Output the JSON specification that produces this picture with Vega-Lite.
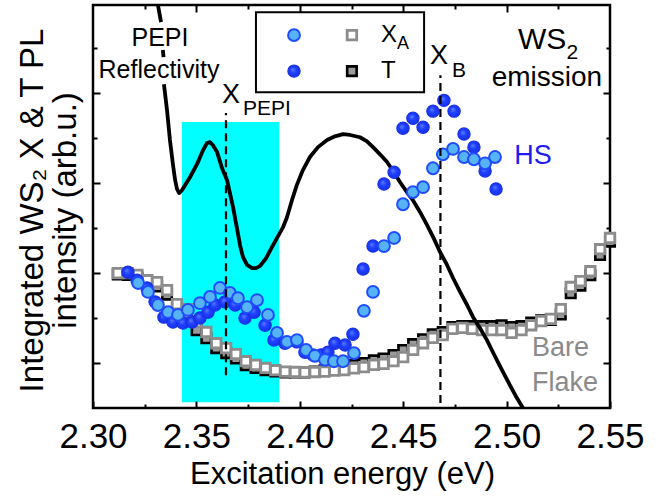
{
  "$schema": "https://vega.github.io/schema/vega-lite/v6.json",
  "width": 517,
  "height": 403,
  "autosize": {"type": "none"},
  "padding": {"left": 93, "top": 5, "right": 58, "bottom": 92},
  "background": "white",
  "config": {"view": {"stroke": "black", "strokeWidth": 2.5}, "font": "Liberation Sans"},
  "resolve": {"axis": {"x": "independent", "y": "independent"}},
  "datasets": {
    "band": [{"x": 2.343, "x2": 2.390, "y": 0.13, "y2": 6.36}],
    "dashes": [{"x": 2.3643, "y": 0.73, "y2": 6.56}, {"x": 2.4680, "y": 0.11, "y2": 7.40}],
    "curve": [
      {"seg": 1, "x": 2.3314, "y": 8.96}, {"seg": 1, "x": 2.3329, "y": 8.58},
      {"seg": 2, "x": 2.3338, "y": 7.96}, {"seg": 2, "x": 2.3341, "y": 7.80},
      {"seg": 3, "x": 2.3343, "y": 7.20}, {"seg": 3, "x": 2.3358, "y": 6.62}, {"seg": 3, "x": 2.3372, "y": 5.96},
      {"seg": 3, "x": 2.3387, "y": 5.40}, {"seg": 3, "x": 2.3397, "y": 5.07}, {"seg": 3, "x": 2.3406, "y": 4.87},
      {"seg": 3, "x": 2.3416, "y": 4.78}, {"seg": 3, "x": 2.3430, "y": 4.84}, {"seg": 3, "x": 2.3469, "y": 5.13},
      {"seg": 3, "x": 2.3503, "y": 5.42}, {"seg": 3, "x": 2.3532, "y": 5.73}, {"seg": 3, "x": 2.3551, "y": 5.89},
      {"seg": 3, "x": 2.3566, "y": 5.91}, {"seg": 3, "x": 2.3580, "y": 5.84}, {"seg": 3, "x": 2.3600, "y": 5.69},
      {"seg": 3, "x": 2.3624, "y": 5.33}, {"seg": 3, "x": 2.3648, "y": 5.07}, {"seg": 3, "x": 2.3662, "y": 4.78},
      {"seg": 3, "x": 2.3677, "y": 4.47}, {"seg": 3, "x": 2.3696, "y": 4.00}, {"seg": 3, "x": 2.3711, "y": 3.62},
      {"seg": 3, "x": 2.3725, "y": 3.36}, {"seg": 3, "x": 2.3745, "y": 3.18}, {"seg": 3, "x": 2.3769, "y": 3.11},
      {"seg": 3, "x": 2.3788, "y": 3.11}, {"seg": 3, "x": 2.3808, "y": 3.16}, {"seg": 3, "x": 2.3837, "y": 3.33},
      {"seg": 3, "x": 2.3866, "y": 3.58}, {"seg": 3, "x": 2.3895, "y": 3.82}, {"seg": 3, "x": 2.3919, "y": 4.02},
      {"seg": 3, "x": 2.3938, "y": 4.24}, {"seg": 3, "x": 2.3962, "y": 4.62}, {"seg": 3, "x": 2.3986, "y": 4.96},
      {"seg": 3, "x": 2.4015, "y": 5.29}, {"seg": 3, "x": 2.4049, "y": 5.58}, {"seg": 3, "x": 2.4088, "y": 5.80},
      {"seg": 3, "x": 2.4132, "y": 5.96}, {"seg": 3, "x": 2.4170, "y": 6.04}, {"seg": 3, "x": 2.4209, "y": 6.09},
      {"seg": 3, "x": 2.4243, "y": 6.07}, {"seg": 3, "x": 2.4291, "y": 6.02}, {"seg": 3, "x": 2.4325, "y": 5.93},
      {"seg": 3, "x": 2.4354, "y": 5.80}, {"seg": 3, "x": 2.4388, "y": 5.64}, {"seg": 3, "x": 2.4422, "y": 5.47},
      {"seg": 3, "x": 2.4451, "y": 5.27}, {"seg": 3, "x": 2.4485, "y": 5.02}, {"seg": 3, "x": 2.4518, "y": 4.80},
      {"seg": 3, "x": 2.4547, "y": 4.62}, {"seg": 3, "x": 2.4581, "y": 4.36}, {"seg": 3, "x": 2.4615, "y": 4.07},
      {"seg": 3, "x": 2.4649, "y": 3.76}, {"seg": 3, "x": 2.4678, "y": 3.47}, {"seg": 3, "x": 2.4712, "y": 3.18},
      {"seg": 3, "x": 2.4741, "y": 2.89}, {"seg": 3, "x": 2.4775, "y": 2.58}, {"seg": 3, "x": 2.4809, "y": 2.29},
      {"seg": 3, "x": 2.4838, "y": 2.02}, {"seg": 3, "x": 2.4871, "y": 1.78}, {"seg": 3, "x": 2.4905, "y": 1.51},
      {"seg": 3, "x": 2.4934, "y": 1.24}, {"seg": 3, "x": 2.4958, "y": 1.02}, {"seg": 3, "x": 2.4983, "y": 0.80},
      {"seg": 3, "x": 2.5016, "y": 0.51}, {"seg": 3, "x": 2.5050, "y": 0.22}, {"seg": 3, "x": 2.5079, "y": 0.0}
    ],
    "xa_bare": [
      {"x": 2.3120, "y": 3.00}, {"x": 2.3168, "y": 3.00}, {"x": 2.3215, "y": 2.96}, {"x": 2.3263, "y": 2.84},
      {"x": 2.3310, "y": 2.80}, {"x": 2.3358, "y": 2.62}, {"x": 2.3406, "y": 2.31}, {"x": 2.3453, "y": 2.20},
      {"x": 2.3501, "y": 1.91}, {"x": 2.3548, "y": 1.69}, {"x": 2.3596, "y": 1.44}, {"x": 2.3644, "y": 1.33},
      {"x": 2.3691, "y": 1.20}, {"x": 2.3739, "y": 1.04}, {"x": 2.3786, "y": 0.96}, {"x": 2.3834, "y": 0.89},
      {"x": 2.3882, "y": 0.84}, {"x": 2.3929, "y": 0.81}, {"x": 2.3977, "y": 0.80}, {"x": 2.4024, "y": 0.79},
      {"x": 2.4072, "y": 0.80}, {"x": 2.4120, "y": 0.81}, {"x": 2.4167, "y": 0.83}, {"x": 2.4215, "y": 0.84},
      {"x": 2.4262, "y": 0.88}, {"x": 2.4310, "y": 0.91}, {"x": 2.4358, "y": 0.96}, {"x": 2.4405, "y": 0.98},
      {"x": 2.4453, "y": 1.04}, {"x": 2.4500, "y": 1.13}, {"x": 2.4548, "y": 1.29}, {"x": 2.4596, "y": 1.44},
      {"x": 2.4643, "y": 1.56}, {"x": 2.4691, "y": 1.62}, {"x": 2.4738, "y": 1.76}, {"x": 2.4786, "y": 1.78},
      {"x": 2.4834, "y": 1.76}, {"x": 2.4881, "y": 1.73}, {"x": 2.4929, "y": 1.73}, {"x": 2.4976, "y": 1.73},
      {"x": 2.5024, "y": 1.67}, {"x": 2.5072, "y": 1.73}, {"x": 2.5119, "y": 1.84}, {"x": 2.5167, "y": 1.93},
      {"x": 2.5214, "y": 1.98}, {"x": 2.5262, "y": 2.20}, {"x": 2.5310, "y": 2.69}, {"x": 2.5357, "y": 2.82},
      {"x": 2.5405, "y": 3.04}, {"x": 2.5452, "y": 3.53}, {"x": 2.5500, "y": 3.78}
    ],
    "t_bare": [
      {"x": 2.3120, "y": 2.97}, {"x": 2.3168, "y": 2.96}, {"x": 2.3215, "y": 2.90}, {"x": 2.3263, "y": 2.76},
      {"x": 2.3310, "y": 2.70}, {"x": 2.3358, "y": 2.52}, {"x": 2.3406, "y": 2.22}, {"x": 2.3453, "y": 2.08},
      {"x": 2.3501, "y": 1.73}, {"x": 2.3548, "y": 1.55}, {"x": 2.3596, "y": 1.33}, {"x": 2.3644, "y": 1.22},
      {"x": 2.3691, "y": 1.10}, {"x": 2.3739, "y": 0.95}, {"x": 2.3786, "y": 0.89}, {"x": 2.3834, "y": 0.84},
      {"x": 2.3882, "y": 0.81}, {"x": 2.3929, "y": 0.79}, {"x": 2.3977, "y": 0.79}, {"x": 2.4024, "y": 0.79},
      {"x": 2.4072, "y": 0.81}, {"x": 2.4120, "y": 0.84}, {"x": 2.4167, "y": 0.88}, {"x": 2.4215, "y": 0.91},
      {"x": 2.4262, "y": 0.96}, {"x": 2.4310, "y": 1.00}, {"x": 2.4358, "y": 1.06}, {"x": 2.4405, "y": 1.10},
      {"x": 2.4453, "y": 1.18}, {"x": 2.4500, "y": 1.29}, {"x": 2.4548, "y": 1.42}, {"x": 2.4596, "y": 1.53},
      {"x": 2.4643, "y": 1.64}, {"x": 2.4691, "y": 1.69}, {"x": 2.4738, "y": 1.80}, {"x": 2.4786, "y": 1.82},
      {"x": 2.4834, "y": 1.82}, {"x": 2.4881, "y": 1.82}, {"x": 2.4929, "y": 1.82}, {"x": 2.4976, "y": 1.84},
      {"x": 2.5024, "y": 1.80}, {"x": 2.5072, "y": 1.82}, {"x": 2.5119, "y": 1.90}, {"x": 2.5167, "y": 1.95},
      {"x": 2.5214, "y": 1.96}, {"x": 2.5262, "y": 2.08}, {"x": 2.5310, "y": 2.55}, {"x": 2.5357, "y": 2.72},
      {"x": 2.5405, "y": 2.95}, {"x": 2.5452, "y": 3.40}, {"x": 2.5500, "y": 3.70}
    ],
    "t_hs": [
      {"x": 2.3169, "y": 3.02}, {"x": 2.3213, "y": 2.84}, {"x": 2.3261, "y": 2.67}, {"x": 2.3300, "y": 2.36},
      {"x": 2.3343, "y": 2.02}, {"x": 2.3387, "y": 1.91}, {"x": 2.3435, "y": 1.89}, {"x": 2.3479, "y": 1.91},
      {"x": 2.3517, "y": 2.00}, {"x": 2.3556, "y": 2.13}, {"x": 2.3590, "y": 2.29}, {"x": 2.3638, "y": 2.36},
      {"x": 2.3687, "y": 2.29}, {"x": 2.3735, "y": 2.00}, {"x": 2.3779, "y": 2.13}, {"x": 2.3832, "y": 1.84},
      {"x": 2.3875, "y": 1.51}, {"x": 2.3928, "y": 1.44}, {"x": 2.3986, "y": 1.47}, {"x": 2.4025, "y": 1.24},
      {"x": 2.4064, "y": 1.18}, {"x": 2.4103, "y": 1.18}, {"x": 2.4136, "y": 1.24}, {"x": 2.4170, "y": 1.44},
      {"x": 2.4219, "y": 1.40}, {"x": 2.4257, "y": 1.64}, {"x": 2.4306, "y": 3.09}, {"x": 2.4354, "y": 3.60},
      {"x": 2.4407, "y": 4.98}, {"x": 2.4456, "y": 5.24}, {"x": 2.4499, "y": 6.22}, {"x": 2.4547, "y": 6.44},
      {"x": 2.4596, "y": 6.24}, {"x": 2.4644, "y": 6.60}, {"x": 2.4697, "y": 6.84}, {"x": 2.4746, "y": 6.60},
      {"x": 2.4794, "y": 6.09}, {"x": 2.4842, "y": 5.80}, {"x": 2.4896, "y": 5.27}, {"x": 2.4949, "y": 4.87}
    ],
    "xa_hs": [
      {"x": 2.3218, "y": 2.78}, {"x": 2.3266, "y": 2.58}, {"x": 2.3314, "y": 2.29}, {"x": 2.3363, "y": 2.13},
      {"x": 2.3411, "y": 2.07}, {"x": 2.3459, "y": 2.18}, {"x": 2.3517, "y": 2.33}, {"x": 2.3566, "y": 2.47},
      {"x": 2.3614, "y": 2.67}, {"x": 2.3662, "y": 2.56}, {"x": 2.3701, "y": 2.44}, {"x": 2.3745, "y": 2.24},
      {"x": 2.3793, "y": 2.40}, {"x": 2.3846, "y": 2.07}, {"x": 2.3890, "y": 1.67}, {"x": 2.3938, "y": 1.47},
      {"x": 2.3986, "y": 1.51}, {"x": 2.4030, "y": 1.29}, {"x": 2.4073, "y": 1.16}, {"x": 2.4122, "y": 1.07},
      {"x": 2.4165, "y": 1.04}, {"x": 2.4209, "y": 1.04}, {"x": 2.4262, "y": 1.22}, {"x": 2.4310, "y": 2.16},
      {"x": 2.4354, "y": 2.58}, {"x": 2.4407, "y": 3.60}, {"x": 2.4456, "y": 3.78}, {"x": 2.4499, "y": 4.53},
      {"x": 2.4547, "y": 4.80}, {"x": 2.4596, "y": 4.91}, {"x": 2.4644, "y": 5.33}, {"x": 2.4692, "y": 5.64},
      {"x": 2.4741, "y": 5.76}, {"x": 2.4794, "y": 5.58}, {"x": 2.4842, "y": 5.53}, {"x": 2.4896, "y": 5.44},
      {"x": 2.4944, "y": 5.58}
    ],
    "legbox": [{"x": 2.3788, "x2": 2.4601, "y": 7.02, "y2": 8.80}],
    "leg_light": [{"x": 2.3972, "y": 8.29}],
    "leg_dark": [{"x": 2.3972, "y": 7.49}],
    "leg_xa": [{"x": 2.4252, "y": 8.29}],
    "leg_t": [{"x": 2.4252, "y": 7.49}],
    "txt25c": [{"x": 2.3324, "y": 8.22, "t": "PEPI"}, {"x": 2.3319, "y": 7.51, "t": "Reflectivity"}],
    "txt28c": [{"x": 2.5195, "y": 7.33, "t": "emission"}],
    "txtWS": [{"x": 2.5055, "y": 8.18, "t": "WS"}],
    "txtX": [{"x": 2.3624, "y": 6.96, "t": "X"}, {"x": 2.4630, "y": 7.82, "t": "X"}],
    "txtSub": [{"x": 2.3725, "y": 6.64, "t": "PEPI"}, {"x": 2.4736, "y": 7.49, "t": "B"}, {"x": 2.5290, "y": 7.90, "t": "2"}],
    "txtLeg": [{"x": 2.4393, "y": 8.29, "t": "X"}, {"x": 2.4393, "y": 7.49, "t": "T"}],
    "txtLegSub": [{"x": 2.4470, "y": 8.09, "t": "A"}],
    "txtHS": [{"x": 2.5128, "y": 5.60, "t": "HS"}],
    "txtBare": [{"x": 2.5123, "y": 1.33, "t": "Bare"}, {"x": 2.5123, "y": 0.56, "t": "Flake"}]
  },
  "encoding": {
    "x": {"field": "x", "type": "quantitative", "scale": {"domain": [2.30, 2.55], "nice": false, "zero": false}, "axis": null},
    "y": {"field": "y", "type": "quantitative", "scale": {"domain": [0, 8.96], "nice": false, "zero": false}, "axis": null}
  },
  "layer": [
    {
      "data": {"name": "band"},
      "mark": {"type": "rect", "color": "#00ffff", "opacity": 1},
      "encoding": {
        "x": {"field": "x", "type": "quantitative", "scale": {"domain": [2.30, 2.55], "nice": false, "zero": false},
          "axis": {"orient": "bottom", "values": [2.30, 2.35, 2.40, 2.45, 2.50, 2.55], "format": ".2f",
            "tickSize": -7, "tickWidth": 2, "tickColor": "black", "domain": false, "grid": false,
            "labelFont": "Liberation Sans Narrow, Liberation Sans", "labelFontSize": 35, "labelColor": "black",
            "labelPadding": 46, "labelBaseline": "alphabetic", "labelFlush": false, "labelOverlap": false, "labelBound": false,
            "title": "Excitation energy (eV)", "titleFont": "Liberation Sans", "titleFontSize": 31, "titleFontWeight": "normal",
            "titleColor": "black", "titleBaseline": "alphabetic", "titleAlign": "center", "titleX": 249, "titleY": 75, "zindex": 1}},
        "x2": {"field": "x2"},
        "y": {"field": "y", "type": "quantitative", "scale": {"domain": [0, 8.96], "nice": false, "zero": false},
          "axis": {"orient": "left", "values": [1, 3, 5, 7], "tickSize": -7, "tickWidth": 2, "tickColor": "black",
            "domain": false, "grid": false, "labels": false,
            "title": ["Integrated WS₂ X & T PL", "intensity (arb.u.)"], "titleFont": "Liberation Sans", "titleFontSize": 33,
            "titleFontWeight": "normal", "titleColor": "black", "titleAngle": 270, "titleAlign": "center",
            "titleBaseline": "alphabetic", "titleX": -51, "titleY": 205, "titleLineHeight": 33, "zindex": 1}},
        "y2": {"field": "y2"}
      }
    },
    {
      "data": {"name": "t_bare"},
      "mark": {"type": "point", "shape": "square", "size": 90, "filled": true, "fill": "#9a9a9a", "stroke": "black", "strokeWidth": 2.6, "opacity": 1},
      "encoding": {
        "x": {"field": "x", "type": "quantitative", "scale": {"domain": [2.30, 2.55], "nice": false, "zero": false},
          "axis": {"orient": "top", "values": [2.325, 2.375, 2.425, 2.475, 2.525], "tickSize": -4, "tickWidth": 2, "tickColor": "black",
            "domain": false, "grid": false, "labels": false, "title": null, "zindex": 1}},
        "y": {"field": "y", "type": "quantitative", "scale": {"domain": [0, 8.96], "nice": false, "zero": false},
          "axis": {"orient": "right", "values": [2, 4, 6, 8], "tickSize": -4, "tickWidth": 2, "tickColor": "black",
            "domain": false, "grid": false, "labels": false, "title": null, "zindex": 1}}
      }
    },
    {
      "data": {"name": "xa_bare"},
      "mark": {"type": "point", "shape": "square", "size": 90, "filled": true, "fill": "white", "stroke": "#8c8c8c", "strokeWidth": 2.8, "opacity": 1}
    },
    {
      "data": {"name": "curve"},
      "mark": {"type": "line", "color": "black", "strokeWidth": 3.8, "strokeJoin": "round", "strokeCap": "butt"},
      "encoding": {
        "detail": {"field": "seg", "type": "nominal"},
        "x": {"field": "x", "type": "quantitative", "scale": {"domain": [2.30, 2.55], "nice": false, "zero": false},
          "axis": {"orient": "bottom", "values": [2.325, 2.375, 2.425, 2.475, 2.525], "tickSize": -4, "tickWidth": 2, "tickColor": "black",
            "domain": false, "grid": false, "labels": false, "title": null, "zindex": 1}},
        "y": {"field": "y", "type": "quantitative", "scale": {"domain": [0, 8.96], "nice": false, "zero": false},
          "axis": {"orient": "left", "values": [2, 4, 6, 8], "tickSize": -4, "tickWidth": 2, "tickColor": "black",
            "domain": false, "grid": false, "labels": false, "title": null, "zindex": 1}}
      }
    },
    {
      "data": {"name": "t_hs"},
      "mark": {"type": "circle", "size": 150, "opacity": 1, "stroke": "#1a30e6", "strokeWidth": 1.2,
        "fill": {"gradient": "radial", "x1": 0.38, "y1": 0.35, "r1": 0, "x2": 0.5, "y2": 0.5, "r2": 0.55,
          "stops": [{"offset": 0, "color": "#6080ff"}, {"offset": 0.45, "color": "#2040ff"}, {"offset": 1, "color": "#1430e6"}]}}
    },
    {
      "data": {"name": "xa_hs"},
      "mark": {"type": "circle", "size": 140, "opacity": 1, "fill": "#56b4f6", "stroke": "#1f4cff", "strokeWidth": 2}
    },
    {
      "data": {"name": "dashes"},
      "mark": {"type": "rule", "color": "black", "strokeWidth": 2.2, "strokeDash": [8, 5]},
      "encoding": {
        "x": {"field": "x", "type": "quantitative", "scale": {"domain": [2.30, 2.55], "nice": false, "zero": false},
          "axis": {"orient": "top", "values": [2.35, 2.40, 2.45, 2.50], "tickSize": -7, "tickWidth": 2, "tickColor": "black",
            "domain": false, "grid": false, "labels": false, "title": null, "zindex": 1}},
        "y": {"field": "y", "type": "quantitative", "scale": {"domain": [0, 8.96], "nice": false, "zero": false},
          "axis": {"orient": "right", "values": [1, 3, 5, 7], "tickSize": -7, "tickWidth": 2, "tickColor": "black",
            "domain": false, "grid": false, "labels": false, "title": null, "zindex": 1}},
        "y2": {"field": "y2"}
      }
    },
    {
      "data": {"name": "legbox"},
      "mark": {"type": "rect", "fill": "white", "stroke": "black", "strokeWidth": 2},
      "encoding": {"x2": {"field": "x2"}, "y2": {"field": "y2"}}
    },
    {
      "data": {"name": "leg_light"},
      "mark": {"type": "circle", "size": 140, "opacity": 1, "fill": "#56b4f6", "stroke": "#1f4cff", "strokeWidth": 2}
    },
    {
      "data": {"name": "leg_dark"},
      "mark": {"type": "circle", "size": 150, "opacity": 1, "stroke": "#1a30e6", "strokeWidth": 1.2,
        "fill": {"gradient": "radial", "x1": 0.38, "y1": 0.35, "r1": 0, "x2": 0.5, "y2": 0.5, "r2": 0.55,
          "stops": [{"offset": 0, "color": "#6080ff"}, {"offset": 0.45, "color": "#2040ff"}, {"offset": 1, "color": "#1430e6"}]}}
    },
    {
      "data": {"name": "leg_xa"},
      "mark": {"type": "point", "shape": "square", "size": 90, "filled": true, "fill": "white", "stroke": "#8c8c8c", "strokeWidth": 2.8, "opacity": 1}
    },
    {
      "data": {"name": "leg_t"},
      "mark": {"type": "point", "shape": "square", "size": 90, "filled": true, "fill": "#9a9a9a", "stroke": "black", "strokeWidth": 2.6, "opacity": 1}
    },
    {
      "data": {"name": "txt25c"},
      "mark": {"type": "text", "font": "Liberation Sans", "fontSize": 25, "color": "black", "align": "center", "baseline": "middle"},
      "encoding": {"text": {"field": "t"}}
    },
    {
      "data": {"name": "txt28c"},
      "mark": {"type": "text", "font": "Liberation Sans", "fontSize": 28, "color": "black", "align": "center", "baseline": "middle"},
      "encoding": {"text": {"field": "t"}}
    },
    {
      "data": {"name": "txtWS"},
      "mark": {"type": "text", "font": "Liberation Sans", "fontSize": 30, "color": "black", "align": "left", "baseline": "middle"},
      "encoding": {"text": {"field": "t"}}
    },
    {
      "data": {"name": "txtX"},
      "mark": {"type": "text", "font": "Liberation Sans", "fontSize": 27, "color": "black", "align": "left", "baseline": "middle"},
      "encoding": {"text": {"field": "t"}}
    },
    {
      "data": {"name": "txtSub"},
      "mark": {"type": "text", "font": "Liberation Sans", "fontSize": 21, "color": "black", "align": "left", "baseline": "middle"},
      "encoding": {"text": {"field": "t"}}
    },
    {
      "data": {"name": "txtLeg"},
      "mark": {"type": "text", "font": "Liberation Sans", "fontSize": 24, "color": "black", "align": "left", "baseline": "middle"},
      "encoding": {"text": {"field": "t"}}
    },
    {
      "data": {"name": "txtLegSub"},
      "mark": {"type": "text", "font": "Liberation Sans", "fontSize": 18, "color": "black", "align": "left", "baseline": "middle"},
      "encoding": {"text": {"field": "t"}}
    },
    {
      "data": {"name": "txtHS"},
      "mark": {"type": "text", "font": "Liberation Sans", "fontSize": 27, "color": "#1c1cf0", "align": "center", "baseline": "middle"},
      "encoding": {"text": {"field": "t"}}
    },
    {
      "data": {"name": "txtBare"},
      "mark": {"type": "text", "font": "Liberation Sans", "fontSize": 27, "color": "#8a8a8a", "align": "left", "baseline": "middle"},
      "encoding": {"text": {"field": "t"}}
    }
  ]
}
